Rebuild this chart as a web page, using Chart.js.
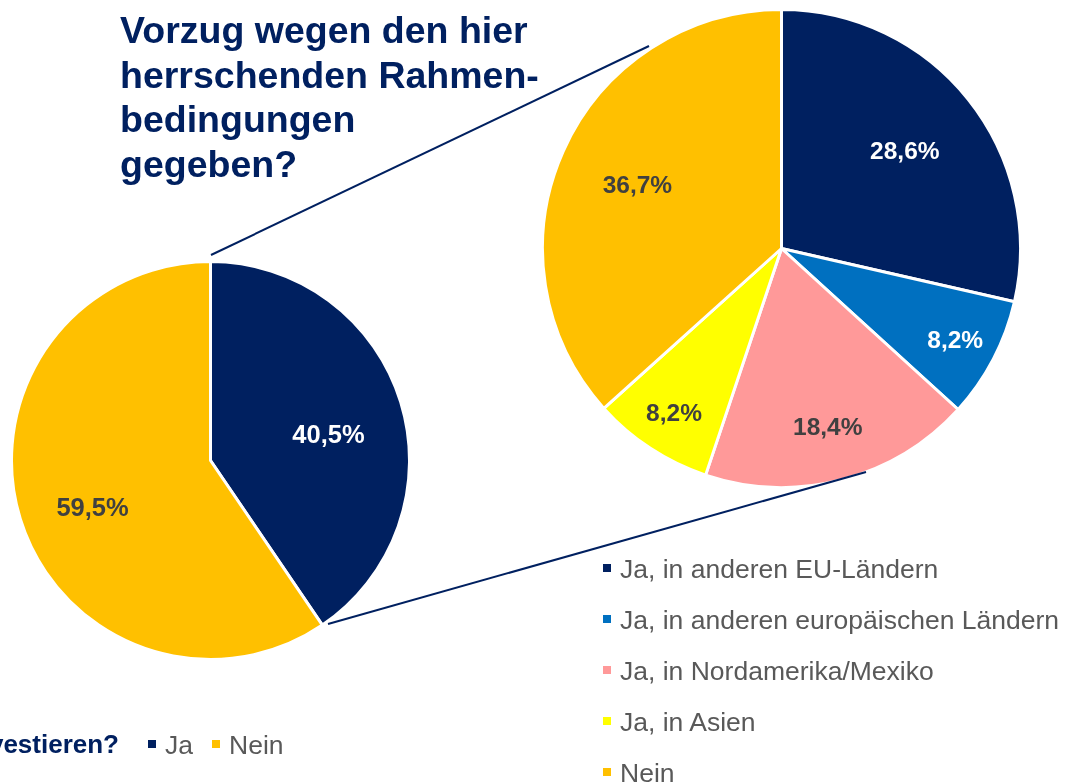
<!DOCTYPE html>
<html>
<head>
<meta charset="utf-8">
<script src="https://cdn.jsdelivr.net/npm/chart.js@4.4.1/dist/chart.umd.min.js"></script>
<style>
  html, body { margin: 0; padding: 0; background: #fff; }
  body { width: 1065px; height: 782px; position: relative; overflow: hidden;
         font-family: "Liberation Sans", Arial, sans-serif; }
  .box { position: absolute; }
  #title { left: 120px; top: 8px; font-size: 37.5px; line-height: 44.5px; font-weight: bold; color: #002060; white-space: nowrap; }
  #question { right: 946px; top: 729px; font-size: 26px; font-weight: bold; color: #002060; white-space: nowrap; }
  .lg { position: absolute; font-size: 26.5px; color: #595959; white-space: nowrap; }
  .sw { display: inline-block; width: 8px; height: 8px; margin-right: 9px; vertical-align: middle; position: relative; top: -3px; }
  svg { position: absolute; left: 0; top: 0; }
</style>
</head>
<body>
<div class="box" style="left:10px;top:260px;width:401px;height:401px"><canvas id="pieMain" width="401" height="401"></canvas></div>
<div class="box" style="left:541px;top:8px;width:481px;height:481px"><canvas id="pieDetail" width="481" height="481"></canvas></div>
<svg width="1065" height="782" id="links"></svg>
<div class="box" id="title">Vorzug wegen den hier<br>herrschenden Rahmen-<br>bedingungen<br>gegeben?</div>
<div class="box" id="question">Planen Sie im Ausland zu investieren?</div>
<div id="legendMain"></div>
<div id="legendDetail"></div>
<script>
// main question: invest abroad?
const mainLabels = ["Ja", "Nein"];
const mainValues = [40.5, 59.5];

// detail: where
const detailLabels = [
  "Ja, in anderen EU-Ländern",
  "Ja, in anderen europäischen Ländern",
  "Ja, in Nordamerika/Mexiko",
  "Ja, in Asien",
  "Nein",
];
const detailValues = [28.6, 8.2, 18.4, 8.2, 36.7];

const NAVY = "#002060";
const mainColors = [NAVY, "#FFC000"];
const detailColors = [NAVY, "#0070C0", "#FF9999", "#FFFF00", "#FFC000"];
const DARK = "#404040";
const mainText = ["#fff", DARK];
const detailText = ["#fff", "#fff", DARK, DARK, DARK];

const fmt = (v) => v.toFixed(1).replace(".", ",") + "%";

// labels inside the slices, pushed outward for small slices
const sliceLabels = {
  id: "sliceLabels",
  afterDatasetsDraw(chart, args, opts) {
    const ctx = chart.ctx;
    const ds = chart.data.datasets[0];
    const total = ds.data.reduce((a, b) => a + b, 0);
    chart.getDatasetMeta(0).data.forEach((arc, i) => {
      const p = arc.getProps(["x", "y", "startAngle", "endAngle", "outerRadius"], true);
      const mid = (p.startAngle + p.endAngle) / 2;
      const share = ds.data[i] / total;
      let f = 0.66;
      if (share > 0.38) f = 0.62;
      else if (share < 0.1) f = 0.82;
      else if (share < 0.2) f = 0.77;
      const x = p.x + Math.cos(mid) * p.outerRadius * f;
      const y = p.y + Math.sin(mid) * p.outerRadius * f + opts.dy;
      ctx.save();
      ctx.font = `bold ${opts.size}px 'Liberation Sans', Arial, sans-serif`;
      ctx.fillStyle = opts.colors[i];
      ctx.textAlign = "center";
      ctx.textBaseline = "middle";
      ctx.fillText(fmt(ds.data[i]), x, y);
      ctx.restore();
    });
  },
};

function pie(id, labels, values, colors, textColors, size, dy) {
  return new Chart(document.getElementById(id), {
    type: "pie",
    data: {
      labels,
      datasets: [{ data: values, backgroundColor: colors, borderColor: "#fff", borderWidth: 3 }],
    },
    options: {
      responsive: false,
      animation: false,
      layout: { padding: 0 },
      plugins: {
        legend: { display: false },
        tooltip: { enabled: false },
        sliceLabels: { colors: textColors, size, dy },
      },
    },
    plugins: [sliceLabels],
  });
}

pie("pieMain", mainLabels, mainValues, mainColors, mainText, 25.5, 12);
pie("pieDetail", detailLabels, detailValues, detailColors, detailText, 24.5, 2);

// zoom connector lines
document.getElementById("links").innerHTML =
  `<line x1="211" y1="255" x2="649" y2="46" stroke="${NAVY}" stroke-width="2"/>` +
  `<line x1="328" y1="624" x2="866" y2="472" stroke="${NAVY}" stroke-width="2"/>`;

// legends
const lgMain = document.getElementById("legendMain");
let x = 148;
mainLabels.forEach((l, i) => {
  lgMain.innerHTML += `<div class="lg" style="left:${x}px;top:730px"><span class="sw" style="background:${mainColors[i]}"></span>${l}</div>`;
  x += 64;
});
const lgDetail = document.getElementById("legendDetail");
detailLabels.forEach((l, i) => {
  lgDetail.innerHTML += `<div class="lg" style="left:603px;top:${554 + i * 51}px"><span class="sw" style="background:${detailColors[i]}"></span>${l}</div>`;
});
</script>
</body>
</html>
